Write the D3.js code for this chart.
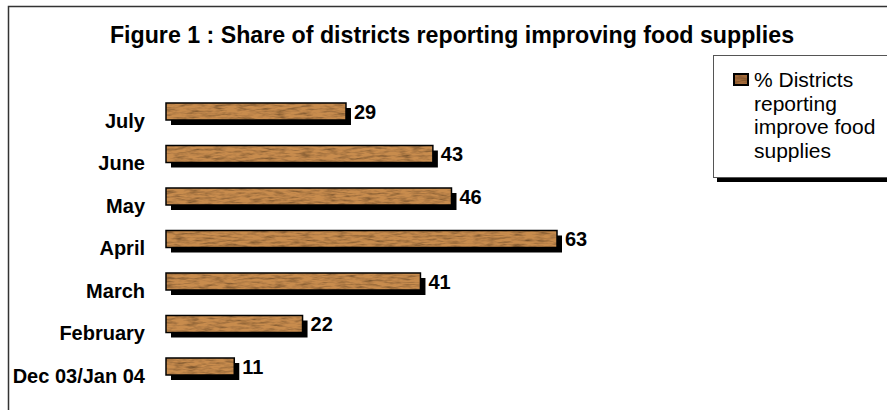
<!DOCTYPE html>
<html>
<head>
<meta charset="utf-8">
<script src="https://cdn.jsdelivr.net/npm/d3@7"></script>
<style>
  body { margin: 0; background: #fff; }
  svg { display: block; font-family: Arial, "Liberation Sans", sans-serif; }
</style>
</head>
<body>
<svg width="887" height="410"></svg>
<script>
// data, top to bottom
const months = ["July", "June", "May", "April", "March", "February", "Dec 03/Jan 04"];
const shares = [29, 43, 46, 63, 41, 22, 11];
const seriesName = ["% Districts", "reporting", "improve food", "supplies"];
const title = "Figure 1 : Share of districts reporting improving food supplies";

const svg = d3.select("svg");

//wood texture for the bars
const defs = svg.append("defs");
const wood = defs.append("filter")
    .attr("id", "wood")
    .attr("x", 0).attr("y", 0).attr("width", 1).attr("height", 1);
wood.append("feTurbulence")
    .attr("type", "fractalNoise")
    .attr("baseFrequency", "0.08 0.45")
    .attr("numOctaves", 3)
    .attr("seed", 4)
    .attr("result", "noise");
wood.append("feColorMatrix")
    .attr("in", "noise")
    .attr("type", "matrix")
    .attr("values", "1.3 0 0 0 0.2  1.3 0 0 0 0.2  1.3 0 0 0 0.2  0 0 0 0 1")
    .attr("result", "grain");
wood.append("feBlend")
    .attr("in", "SourceGraphic")
    .attr("in2", "grain")
    .attr("mode", "multiply")
    .attr("result", "mixed");
wood.append("feComposite")
    .attr("in", "mixed")
    .attr("in2", "SourceGraphic")
    .attr("operator", "in");

//outer frame
svg.append("rect")
    .attr("x", 8.5).attr("y", 6.5)
    .attr("width", 890).attr("height", 420)
    .attr("fill", "none")
    .attr("stroke", "#333")
    .attr("stroke-width", 1.5);

svg.append("text")
    .attr("x", 452).attr("y", 43)
    .attr("text-anchor", "middle")
    .attr("font-weight", "bold")
    .attr("font-size", 23.2)
    .text(title);

const x = d3.scaleLinear().domain([0, 63]).range([166, 557]);
const y = d3.scaleBand().domain(months).range([77.5, 400.5]).padding(0.6);
const h = y.bandwidth();

const bars = svg.append("g");

//shadows
bars.selectAll(".shadow")
    .data(shares)
    .join("rect")
    .attr("class", "shadow")
    .attr("x", x(0) + 5)
    .attr("y", (d, i) => y(months[i]) + 5)
    .attr("width", d => x(d) - x(0))
    .attr("height", h)
    .attr("fill", "#000");

bars.selectAll(".bar")
    .data(shares)
    .join("rect")
    .attr("class", "bar")
    .attr("x", x(0))
    .attr("y", (d, i) => y(months[i]))
    .attr("width", d => x(d) - x(0))
    .attr("height", h)
    .attr("fill", "#c88c4e")
    .attr("filter", "url(#wood)");

bars.selectAll(".edge")
    .data(shares)
    .join("rect")
    .attr("class", "edge")
    .attr("x", x(0))
    .attr("y", (d, i) => y(months[i]))
    .attr("width", d => x(d) - x(0))
    .attr("height", h)
    .attr("fill", "none")
    .attr("stroke", "#000")
    .attr("stroke-width", 1.5);

//value labels
bars.selectAll(".val")
    .data(shares)
    .join("text")
    .attr("class", "val")
    .attr("x", d => x(d) + 8)
    .attr("y", (d, i) => y(months[i]) + h / 2)
    .attr("dy", "0.36em")
    .attr("font-weight", "bold")
    .attr("font-size", 20)
    .text(d => d);

//category axis
const yAxis = svg.append("g")
    .attr("transform", `translate(${x(0)},0)`)
    .call(d3.axisLeft(y).tickSize(0).tickPadding(21));
yAxis.select(".domain").remove();
yAxis.selectAll("text")
    .attr("font-family", "Arial, 'Liberation Sans', sans-serif")
    .attr("font-size", 20)
    .attr("font-weight", "bold")
    .attr("fill", "#000")
    .attr("dy", "0.8em");

//legend
const lg = svg.append("g").attr("transform", "translate(713,55)");
lg.append("rect")
    .attr("x", 4).attr("y", 5)
    .attr("width", 190).attr("height", 122)
    .attr("fill", "#000");
lg.append("rect")
    .attr("x", 0.5).attr("y", 0.5)
    .attr("width", 190).attr("height", 122)
    .attr("fill", "#fff")
    .attr("stroke", "#555");
lg.append("rect")
    .attr("x", 20).attr("y", 18)
    .attr("width", 16).attr("height", 13)
    .attr("fill", "#000");
lg.append("rect")
    .attr("x", 22).attr("y", 20)
    .attr("width", 12).attr("height", 9)
    .attr("fill", "#a56c3a")
    .attr("filter", "url(#wood)");
lg.selectAll(".lt")
    .data(seriesName)
    .join("text")
    .attr("class", "lt")
    .attr("x", 41)
    .attr("y", (d, i) => 32 + i * 23.5)
    .attr("font-size", 21)
    .text(d => d);
</script>
</body>
</html>
